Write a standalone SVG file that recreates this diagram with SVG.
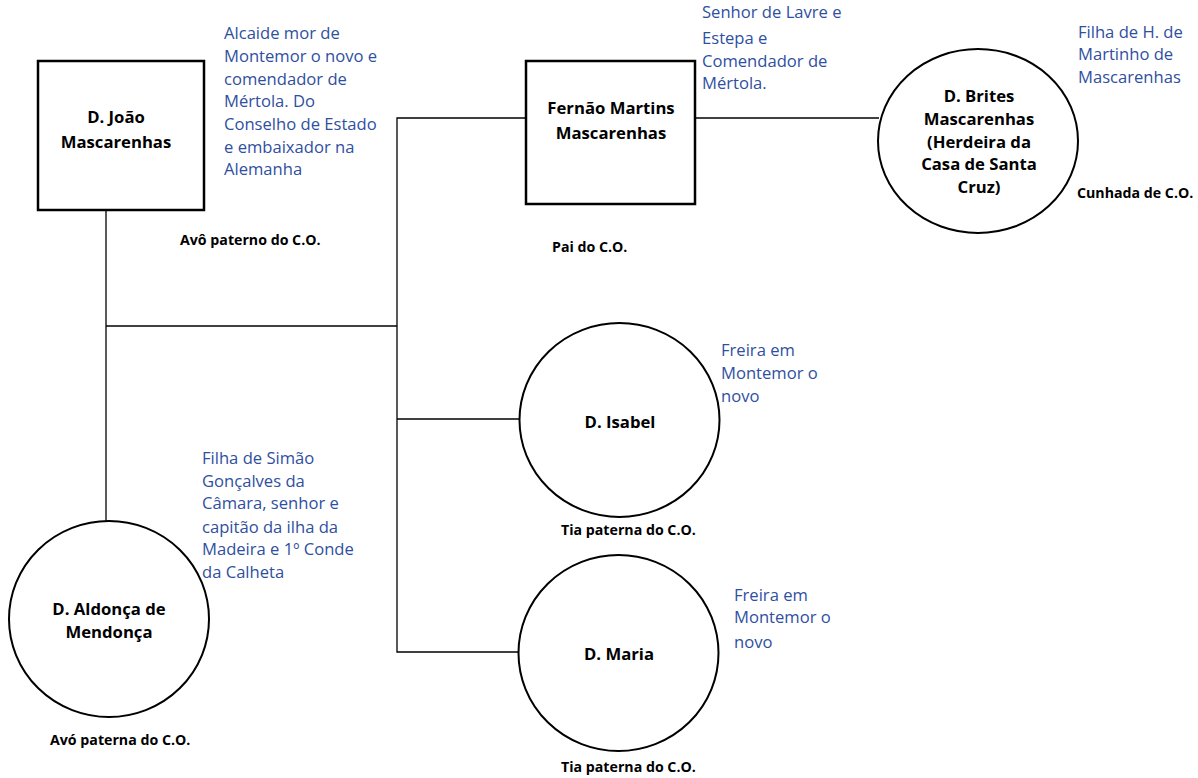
<svg xmlns="http://www.w3.org/2000/svg" width="1198" height="778" viewBox="0 0 1198 778">
<style>
.box{fill:#fff;stroke:#000;stroke-width:2.5}
.circ{fill:#fff;stroke:#000;stroke-width:2}
.ln{fill:none;stroke:#000;stroke-width:1.3}
.name{font-family:"Open Sans",sans-serif;font-weight:bold;font-size:16.7px;fill:#000;text-anchor:middle}
.note{font-family:"Open Sans",sans-serif;font-size:16.6px;fill:#2F4F9F}
.rel{font-family:"Open Sans",sans-serif;font-weight:bold;font-size:14.2px;fill:#000}
</style>
<rect width="1198" height="778" fill="#fff"/>
<g id="connectors">
<polyline class="ln" points="106,210 106,521"/>
<polyline class="ln" points="106,326 397,326"/>
<polyline class="ln" points="526,118 397,118 397,652 518,652"/>
<polyline class="ln" points="397,419 519,419"/>
<polyline class="ln" points="695,118 879,118"/>
</g>
<g id="joao">
<rect class="box" x="38" y="61" width="166" height="149"/>
<text class="name" x="116" y="123">D. João</text>
<text class="name" x="116" y="148">Mascarenhas</text>
<text class="note"><tspan x="224" y="39">Alcaide mor de</tspan><tspan x="224" y="62">Montemor o novo e</tspan><tspan x="224" y="85">comendador de</tspan><tspan x="224" y="107">Mértola. Do</tspan><tspan x="224" y="130">Conselho de Estado</tspan><tspan x="224" y="153">e embaixador na</tspan><tspan x="224" y="175">Alemanha</tspan></text>
<text class="rel" x="180" y="245">Avô paterno do C.O.</text>
</g>
<g id="fernao">
<rect class="box" x="526" y="61" width="169" height="143"/>
<text class="name" x="611" y="114">Fernão Martins</text>
<text class="name" x="611" y="139">Mascarenhas</text>
<text class="note"><tspan x="702" y="18">Senhor de Lavre e</tspan><tspan x="702" y="44">Estepa e</tspan><tspan x="702" y="67">Comendador de</tspan><tspan x="702" y="89">Mértola.</tspan></text>
<text class="rel" x="552" y="252">Pai do C.O.</text>
</g>
<g id="brites">
<ellipse class="circ" cx="978" cy="141" rx="100" ry="92"/>
<text class="name"><tspan x="979" y="102">D. Brites</tspan><tspan x="979" y="125">Mascarenhas</tspan><tspan x="979" y="148">(Herdeira da</tspan><tspan x="979" y="170">Casa de Santa</tspan><tspan x="979" y="193">Cruz)</tspan></text>
<text class="note"><tspan x="1078" y="38">Filha de H. de</tspan><tspan x="1078" y="60">Martinho de</tspan><tspan x="1078" y="83">Mascarenhas</tspan></text>
<text class="rel" x="1077" y="198">Cunhada de C.O.</text>
</g>
<g id="aldonca">
<ellipse class="circ" cx="109" cy="619" rx="100" ry="98"/>
<text class="name" x="109" y="615">D. Aldonça de</text>
<text class="name" x="109" y="638">Mendonça</text>
<text class="note"><tspan x="202" y="464">Filha de Simão</tspan><tspan x="202" y="487">Gonçalves da</tspan><tspan x="202" y="509">Câmara, senhor e</tspan><tspan x="202" y="533">capitão da ilha da</tspan><tspan x="202" y="555">Madeira e 1º Conde</tspan><tspan x="202" y="578">da Calheta</tspan></text>
<text class="rel" x="50" y="745">Avó paterna do C.O.</text>
</g>
<g id="isabel">
<ellipse class="circ" cx="619.5" cy="420" rx="100" ry="97"/>
<text class="name" x="620" y="428">D. Isabel</text>
<text class="note"><tspan x="721" y="356">Freira em</tspan><tspan x="721" y="379">Montemor o</tspan><tspan x="721" y="402">novo</tspan></text>
<text class="rel" x="561" y="535">Tia paterna do C.O.</text>
</g>
<g id="maria">
<ellipse class="circ" cx="618.5" cy="653" rx="100" ry="98"/>
<text class="name" x="619" y="660">D. Maria</text>
<text class="note"><tspan x="734" y="601">Freira em</tspan><tspan x="734" y="623">Montemor o</tspan><tspan x="734" y="648">novo</tspan></text>
<text class="rel" x="561" y="772">Tia paterna do C.O.</text>
</g>
</svg>
